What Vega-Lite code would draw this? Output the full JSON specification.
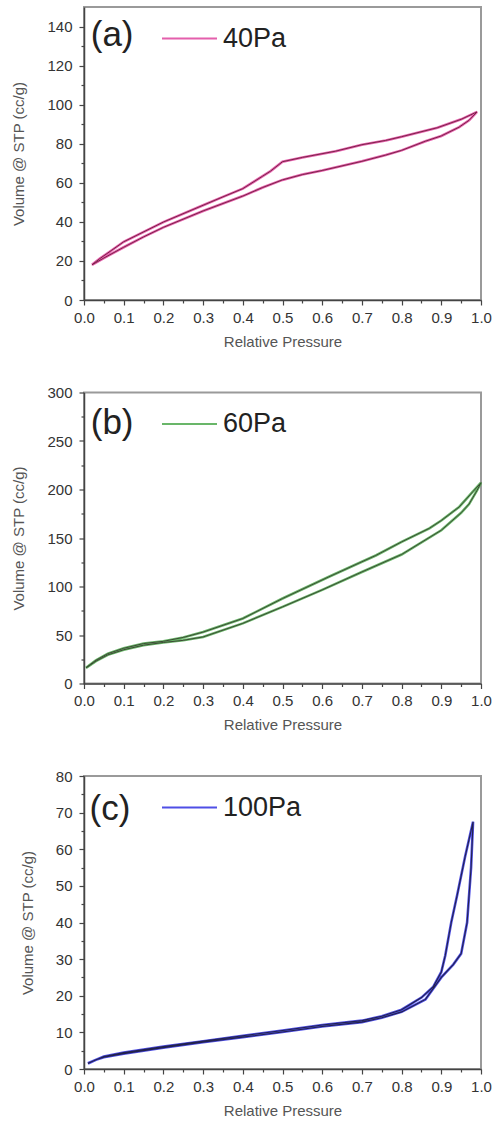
{
  "$schema": "https://vega.github.io/schema/vega-lite/v6.json",
  "padding": {"left": 10, "top": 6, "right": 5, "bottom": 5},
  "background": "white",
  "spacing": 34.5,
  "datasets": {
    "a": [
      {"i": 1, "branch": "ads", "sample": "40Pa", "p": 0.02, "v": 18},
      {"i": 2, "branch": "ads", "sample": "40Pa", "p": 0.05, "v": 21.5},
      {"i": 3, "branch": "ads", "sample": "40Pa", "p": 0.1, "v": 27},
      {"i": 4, "branch": "ads", "sample": "40Pa", "p": 0.15, "v": 32.3},
      {"i": 5, "branch": "ads", "sample": "40Pa", "p": 0.2, "v": 37.2},
      {"i": 6, "branch": "ads", "sample": "40Pa", "p": 0.3, "v": 45.6},
      {"i": 7, "branch": "ads", "sample": "40Pa", "p": 0.4, "v": 53.2},
      {"i": 8, "branch": "ads", "sample": "40Pa", "p": 0.45, "v": 57.6},
      {"i": 9, "branch": "ads", "sample": "40Pa", "p": 0.5, "v": 61.5},
      {"i": 10, "branch": "ads", "sample": "40Pa", "p": 0.55, "v": 64.2},
      {"i": 11, "branch": "ads", "sample": "40Pa", "p": 0.6, "v": 66.3},
      {"i": 12, "branch": "ads", "sample": "40Pa", "p": 0.7, "v": 71},
      {"i": 13, "branch": "ads", "sample": "40Pa", "p": 0.76, "v": 74.2},
      {"i": 14, "branch": "ads", "sample": "40Pa", "p": 0.8, "v": 76.6},
      {"i": 15, "branch": "ads", "sample": "40Pa", "p": 0.86, "v": 81.3},
      {"i": 16, "branch": "ads", "sample": "40Pa", "p": 0.9, "v": 84},
      {"i": 17, "branch": "ads", "sample": "40Pa", "p": 0.945, "v": 88.5},
      {"i": 18, "branch": "ads", "sample": "40Pa", "p": 0.97, "v": 92},
      {"i": 19, "branch": "ads", "sample": "40Pa", "p": 0.99, "v": 96.3},
      {"i": 20, "branch": "des", "sample": "40Pa", "p": 0.95, "v": 92.5},
      {"i": 21, "branch": "des", "sample": "40Pa", "p": 0.89, "v": 88.2},
      {"i": 22, "branch": "des", "sample": "40Pa", "p": 0.8, "v": 83.6},
      {"i": 23, "branch": "des", "sample": "40Pa", "p": 0.76, "v": 81.7},
      {"i": 24, "branch": "des", "sample": "40Pa", "p": 0.7, "v": 79.5},
      {"i": 25, "branch": "des", "sample": "40Pa", "p": 0.634, "v": 76.2},
      {"i": 26, "branch": "des", "sample": "40Pa", "p": 0.55, "v": 73},
      {"i": 27, "branch": "des", "sample": "40Pa", "p": 0.5, "v": 70.8},
      {"i": 28, "branch": "des", "sample": "40Pa", "p": 0.47, "v": 66},
      {"i": 29, "branch": "des", "sample": "40Pa", "p": 0.45, "v": 63.4},
      {"i": 30, "branch": "des", "sample": "40Pa", "p": 0.4, "v": 57},
      {"i": 31, "branch": "des", "sample": "40Pa", "p": 0.35, "v": 52.8},
      {"i": 32, "branch": "des", "sample": "40Pa", "p": 0.3, "v": 48.5},
      {"i": 33, "branch": "des", "sample": "40Pa", "p": 0.2, "v": 39.9},
      {"i": 34, "branch": "des", "sample": "40Pa", "p": 0.1, "v": 29.8},
      {"i": 35, "branch": "des", "sample": "40Pa", "p": 0.07, "v": 25.5},
      {"i": 36, "branch": "des", "sample": "40Pa", "p": 0.04, "v": 21.2},
      {"i": 37, "branch": "des", "sample": "40Pa", "p": 0.02, "v": 18}
    ],
    "b": [
      {"i": 1, "branch": "ads", "sample": "60Pa", "p": 0.005, "v": 16},
      {"i": 2, "branch": "ads", "sample": "60Pa", "p": 0.03, "v": 23},
      {"i": 3, "branch": "ads", "sample": "60Pa", "p": 0.06, "v": 29.5},
      {"i": 4, "branch": "ads", "sample": "60Pa", "p": 0.1, "v": 34.8},
      {"i": 5, "branch": "ads", "sample": "60Pa", "p": 0.15, "v": 39.5},
      {"i": 6, "branch": "ads", "sample": "60Pa", "p": 0.2, "v": 42.3},
      {"i": 7, "branch": "ads", "sample": "60Pa", "p": 0.25, "v": 44.5},
      {"i": 8, "branch": "ads", "sample": "60Pa", "p": 0.3, "v": 48},
      {"i": 9, "branch": "ads", "sample": "60Pa", "p": 0.4, "v": 62},
      {"i": 10, "branch": "ads", "sample": "60Pa", "p": 0.5, "v": 79},
      {"i": 11, "branch": "ads", "sample": "60Pa", "p": 0.6, "v": 96.5},
      {"i": 12, "branch": "ads", "sample": "60Pa", "p": 0.7, "v": 115},
      {"i": 13, "branch": "ads", "sample": "60Pa", "p": 0.8, "v": 133},
      {"i": 14, "branch": "ads", "sample": "60Pa", "p": 0.9, "v": 158},
      {"i": 15, "branch": "ads", "sample": "60Pa", "p": 0.95, "v": 176},
      {"i": 16, "branch": "ads", "sample": "60Pa", "p": 0.97, "v": 185},
      {"i": 17, "branch": "ads", "sample": "60Pa", "p": 0.99, "v": 199},
      {"i": 18, "branch": "ads", "sample": "60Pa", "p": 1.0, "v": 207},
      {"i": 19, "branch": "des", "sample": "60Pa", "p": 0.98, "v": 198},
      {"i": 20, "branch": "des", "sample": "60Pa", "p": 0.945, "v": 182},
      {"i": 21, "branch": "des", "sample": "60Pa", "p": 0.9, "v": 168},
      {"i": 22, "branch": "des", "sample": "60Pa", "p": 0.87, "v": 160},
      {"i": 23, "branch": "des", "sample": "60Pa", "p": 0.8, "v": 146},
      {"i": 24, "branch": "des", "sample": "60Pa", "p": 0.735, "v": 132},
      {"i": 25, "branch": "des", "sample": "60Pa", "p": 0.7, "v": 125.5},
      {"i": 26, "branch": "des", "sample": "60Pa", "p": 0.617, "v": 110},
      {"i": 27, "branch": "des", "sample": "60Pa", "p": 0.5, "v": 87.6},
      {"i": 28, "branch": "des", "sample": "60Pa", "p": 0.4, "v": 67},
      {"i": 29, "branch": "des", "sample": "60Pa", "p": 0.3, "v": 53},
      {"i": 30, "branch": "des", "sample": "60Pa", "p": 0.25, "v": 47.5},
      {"i": 31, "branch": "des", "sample": "60Pa", "p": 0.2, "v": 43.5},
      {"i": 32, "branch": "des", "sample": "60Pa", "p": 0.15, "v": 41.2},
      {"i": 33, "branch": "des", "sample": "60Pa", "p": 0.1, "v": 36.3},
      {"i": 34, "branch": "des", "sample": "60Pa", "p": 0.06, "v": 30.8},
      {"i": 35, "branch": "des", "sample": "60Pa", "p": 0.03, "v": 24},
      {"i": 36, "branch": "des", "sample": "60Pa", "p": 0.005, "v": 16.3}
    ],
    "c": [
      {"i": 1, "branch": "ads", "sample": "100Pa", "p": 0.01, "v": 1.5},
      {"i": 2, "branch": "ads", "sample": "100Pa", "p": 0.03, "v": 2.5},
      {"i": 3, "branch": "ads", "sample": "100Pa", "p": 0.05, "v": 3.2},
      {"i": 4, "branch": "ads", "sample": "100Pa", "p": 0.1, "v": 4.2},
      {"i": 5, "branch": "ads", "sample": "100Pa", "p": 0.2, "v": 5.8},
      {"i": 6, "branch": "ads", "sample": "100Pa", "p": 0.3, "v": 7.3},
      {"i": 7, "branch": "ads", "sample": "100Pa", "p": 0.4, "v": 8.7},
      {"i": 8, "branch": "ads", "sample": "100Pa", "p": 0.5, "v": 10.1},
      {"i": 9, "branch": "ads", "sample": "100Pa", "p": 0.6, "v": 11.6},
      {"i": 10, "branch": "ads", "sample": "100Pa", "p": 0.7, "v": 12.8},
      {"i": 11, "branch": "ads", "sample": "100Pa", "p": 0.75, "v": 14},
      {"i": 12, "branch": "ads", "sample": "100Pa", "p": 0.8, "v": 15.6},
      {"i": 13, "branch": "ads", "sample": "100Pa", "p": 0.86, "v": 19},
      {"i": 14, "branch": "ads", "sample": "100Pa", "p": 0.9, "v": 25},
      {"i": 15, "branch": "ads", "sample": "100Pa", "p": 0.93, "v": 28.5},
      {"i": 16, "branch": "ads", "sample": "100Pa", "p": 0.95, "v": 31.5},
      {"i": 17, "branch": "ads", "sample": "100Pa", "p": 0.965, "v": 40},
      {"i": 18, "branch": "ads", "sample": "100Pa", "p": 0.975, "v": 55},
      {"i": 19, "branch": "ads", "sample": "100Pa", "p": 0.98, "v": 67.5},
      {"i": 20, "branch": "des", "sample": "100Pa", "p": 0.96, "v": 58},
      {"i": 21, "branch": "des", "sample": "100Pa", "p": 0.94, "v": 47.5},
      {"i": 22, "branch": "des", "sample": "100Pa", "p": 0.925, "v": 40},
      {"i": 23, "branch": "des", "sample": "100Pa", "p": 0.91, "v": 31},
      {"i": 24, "branch": "des", "sample": "100Pa", "p": 0.9, "v": 26.5},
      {"i": 25, "branch": "des", "sample": "100Pa", "p": 0.88, "v": 22.5},
      {"i": 26, "branch": "des", "sample": "100Pa", "p": 0.85, "v": 19.5},
      {"i": 27, "branch": "des", "sample": "100Pa", "p": 0.8, "v": 16.2},
      {"i": 28, "branch": "des", "sample": "100Pa", "p": 0.75, "v": 14.4},
      {"i": 29, "branch": "des", "sample": "100Pa", "p": 0.7, "v": 13.2},
      {"i": 30, "branch": "des", "sample": "100Pa", "p": 0.6, "v": 12},
      {"i": 31, "branch": "des", "sample": "100Pa", "p": 0.5, "v": 10.5},
      {"i": 32, "branch": "des", "sample": "100Pa", "p": 0.4, "v": 9.1},
      {"i": 33, "branch": "des", "sample": "100Pa", "p": 0.3, "v": 7.6},
      {"i": 34, "branch": "des", "sample": "100Pa", "p": 0.2, "v": 6.1},
      {"i": 35, "branch": "des", "sample": "100Pa", "p": 0.1, "v": 4.5},
      {"i": 36, "branch": "des", "sample": "100Pa", "p": 0.05, "v": 3.4},
      {"i": 37, "branch": "des", "sample": "100Pa", "p": 0.01, "v": 1.6}
    ]
  },
  "config": {
    "view": {"stroke": "#9a9a9a", "strokeWidth": 2},
    "axis": {
      "grid": false,
      "labelFont": "Liberation Sans",
      "labelFontSize": 15,
      "labelColor": "#333333",
      "labelFlush": false,
      "labelOverlap": false,
      "domainColor": "#444444",
      "domainWidth": 1.5,
      "tickColor": "#444444",
      "tickWidth": 1.2,
      "titleFont": "Liberation Sans",
      "titleFontSize": 15,
      "titleFontWeight": "normal",
      "titleColor": "#555555"
    },
    "legend": {
      "orient": "none",
      "legendX": 77,
      "legendY": 3,
      "title": null,
      "symbolType": "stroke",
      "symbolSize": 3025,
      "symbolStrokeWidth": 2,
      "labelFont": "Liberation Sans",
      "labelFontSize": 27,
      "labelColor": "#222222",
      "labelOffset": 5,
      "padding": 0
    }
  },
  "resolve": {"scale": {"color": "independent"}, "legend": {"color": "independent"}},
  "vconcat": [
    {
      "width": 397,
      "height": 293,
      "data": {"name": "a"},
      "encoding": {
        "x": {"field": "p", "type": "quantitative", "scale": {"domain": [0, 1]},
          "axis": {"title": "Relative Pressure", "values": [0,0.05,0.1,0.15,0.2,0.25,0.3,0.35,0.4,0.45,0.5,0.55,0.6,0.65,0.7,0.75,0.8,0.85,0.9,0.95,1.0],
            "labelExpr": "round(datum.value*100) % 10 == 0 ? format(datum.value, '.1f') : ''",
            "tickSize": {"condition": {"test": "round(datum.value*100) % 10 == 0", "value": 5}, "value": 3},
            "labelPadding": 5, "titlePadding": 9}},
        "y": {"field": "v", "type": "quantitative", "scale": {"domain": [0, 150]},
          "axis": {"title": "Volume @ STP (cc/g)", "values": [0,10,20,30,40,50,60,70,80,90,100,110,120,130,140],
            "labelExpr": "datum.value % 20 == 0 ? format(datum.value, 'd') : ''",
            "tickSize": {"condition": {"test": "datum.value % 20 == 0", "value": 5}, "value": 3},
            "labelPadding": 7, "titlePadding": 20}},
        "order": {"field": "i", "type": "quantitative"}
      },
      "layer": [
        {"mark": {"type": "line", "strokeWidth": 2.6, "opacity": 0.85},
          "encoding": {"color": {"field": "sample", "type": "nominal", "scale": {"range": ["#e0449e"]}}}},
        {"mark": {"type": "line", "strokeWidth": 1, "color": "#7a2448"}},
        {"transform": [{"filter": "datum.i == 1"}],
          "mark": {"type": "text", "text": "(a)", "font": "Liberation Sans", "fontSize": 35, "align": "left", "baseline": "alphabetic", "color": "#222222"},
          "encoding": {"x": {"datum": 0.017}, "y": {"datum": 130}, "order": null}}
      ]
    },
    {
      "width": 397,
      "height": 291,
      "data": {"name": "b"},
      "encoding": {
        "x": {"field": "p", "type": "quantitative", "scale": {"domain": [0, 1]},
          "axis": {"title": "Relative Pressure", "values": [0,0.05,0.1,0.15,0.2,0.25,0.3,0.35,0.4,0.45,0.5,0.55,0.6,0.65,0.7,0.75,0.8,0.85,0.9,0.95,1.0],
            "labelExpr": "round(datum.value*100) % 10 == 0 ? format(datum.value, '.1f') : ''",
            "tickSize": {"condition": {"test": "round(datum.value*100) % 10 == 0", "value": 5}, "value": 3},
            "labelPadding": 5, "titlePadding": 9}},
        "y": {"field": "v", "type": "quantitative", "scale": {"domain": [0, 300]},
          "axis": {"title": "Volume @ STP (cc/g)", "values": [0,25,50,75,100,125,150,175,200,225,250,275,300],
            "labelExpr": "datum.value % 50 == 0 ? format(datum.value, 'd') : ''",
            "tickSize": {"condition": {"test": "datum.value % 50 == 0", "value": 5}, "value": 3},
            "labelPadding": 7, "titlePadding": 20}},
        "order": {"field": "i", "type": "quantitative"}
      },
      "layer": [
        {"mark": {"type": "line", "strokeWidth": 2.6, "opacity": 0.8},
          "encoding": {"color": {"field": "sample", "type": "nominal", "scale": {"range": ["#44a444"]}}}},
        {"mark": {"type": "line", "strokeWidth": 1, "color": "#3c4a34"}},
        {"transform": [{"filter": "datum.i == 1"}],
          "mark": {"type": "text", "text": "(b)", "font": "Liberation Sans", "fontSize": 35, "align": "left", "baseline": "alphabetic", "color": "#222222"},
          "encoding": {"x": {"datum": 0.017}, "y": {"datum": 257.5}, "order": null}}
      ]
    },
    {
      "width": 397,
      "height": 293,
      "data": {"name": "c"},
      "encoding": {
        "x": {"field": "p", "type": "quantitative", "scale": {"domain": [0, 1]},
          "axis": {"title": "Relative Pressure", "values": [0,0.05,0.1,0.15,0.2,0.25,0.3,0.35,0.4,0.45,0.5,0.55,0.6,0.65,0.7,0.75,0.8,0.85,0.9,0.95,1.0],
            "labelExpr": "round(datum.value*100) % 10 == 0 ? format(datum.value, '.1f') : ''",
            "tickSize": {"condition": {"test": "round(datum.value*100) % 10 == 0", "value": 5}, "value": 3},
            "labelPadding": 5, "titlePadding": 9}},
        "y": {"field": "v", "type": "quantitative", "scale": {"domain": [0, 80]},
          "axis": {"title": "Volume @ STP (cc/g)", "values": [0,5,10,15,20,25,30,35,40,45,50,55,60,65,70,75,80],
            "labelExpr": "datum.value % 10 == 0 ? format(datum.value, 'd') : ''",
            "tickSize": {"condition": {"test": "datum.value % 10 == 0", "value": 5}, "value": 3},
            "labelPadding": 7, "titlePadding": 20}},
        "order": {"field": "i", "type": "quantitative"}
      },
      "layer": [
        {"mark": {"type": "line", "strokeWidth": 2.6, "opacity": 0.8},
          "encoding": {"color": {"field": "sample", "type": "nominal", "scale": {"range": ["#2424e0"]}}}},
        {"mark": {"type": "line", "strokeWidth": 1.1, "color": "#22224e"}},
        {"transform": [{"filter": "datum.i == 1"}],
          "mark": {"type": "text", "text": "(c)", "font": "Liberation Sans", "fontSize": 35, "align": "left", "baseline": "alphabetic", "color": "#222222"},
          "encoding": {"x": {"datum": 0.014}, "y": {"datum": 68}, "order": null}}
      ]
    }
  ]
}
